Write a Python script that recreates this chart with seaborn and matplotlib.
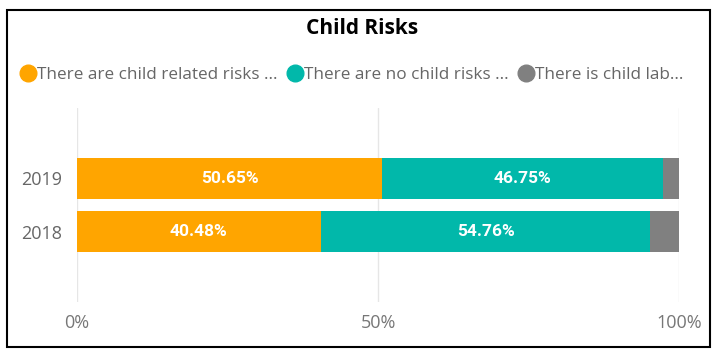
import matplotlib
matplotlib.use("Agg")
import matplotlib.pyplot as plt
import seaborn as sns
import pandas as pd
from matplotlib.patches import Rectangle
from matplotlib.lines import Line2D

years = ["2019", "2018"]
related = [50.65, 40.48]
no_risk = [46.75, 54.76]
labour = [2.60, 4.76]
series_names = ["There are child related risks ...", "There are no child risks ...", "There is child lab..."]
colors = ["#FFA500", "#01B8AA", "#808080"]
xticks = [0, 50, 100]
xticklabels = ["0%", "50%", "100%"]

sns.set_theme(style="white")
plt.rcParams['font.family'] = ['Open Sans', 'DejaVu Sans']

fig = plt.figure(figsize=(7.24, 3.57), dpi=100)
W, H = 724, 357
ax = fig.add_axes([77 / W, (H - 302) / H, (679 - 77) / W, (302 - 108) / H])

cum1 = related
cum2 = [a + b for a, b in zip(related, no_risk)]
cum3 = [a + b + c for a, b, c in zip(related, no_risk, labour)]

df = pd.DataFrame({"year": years, "c1": cum1, "c2": cum2, "c3": cum3})
for col, color in zip(["c3", "c2", "c1"], colors[::-1]):
    sns.barplot(data=df, x=col, y="year", orient="h", color=color, width=0.76,
                ax=ax, saturation=1, linewidth=0, order=years)

for i, y in enumerate(years):
    starts = [0, cum1[i]]
    vals = [related[i], no_risk[i]]
    for s, v in zip(starts, vals):
        ax.text(s + v / 2, i, f"{v:.2f}%", ha="center", va="center", color="white",
                fontsize=12.5, fontweight="bold", family=["Roboto", "DejaVu Sans"])

ax.set_xlim(0, 100)
ax.set_ylim(2.3, -1.3)
ax.set_xticks(xticks)
ax.set_xticklabels(xticklabels, color="#777777", fontsize=13)
ax.tick_params(axis="y", colors="#666666", labelsize=13, length=0, pad=11)
ax.tick_params(axis="x", length=0, pad=9)
ax.set_xlabel("")
ax.set_ylabel("")
for sp in ax.spines.values():
    sp.set_visible(False)
ax.grid(axis="x", color="#E6E6E6", linewidth=1)
ax.set_axisbelow(True)

fig.text(0.5, (H - 28) / H, "Child Risks", ha="center", va="center",
         fontsize=15, fontweight="bold", color="black")

handles = [Line2D([0], [0], marker="o", linestyle="", markersize=12,
                  markerfacecolor=c, markeredgecolor=c) for c in colors]
leg = fig.legend(handles, series_names, loc="center left", bbox_to_anchor=(13 / W, (H - 75) / H),
                 ncol=3, frameon=False, handletextpad=0.0, columnspacing=0.55,
                 handlelength=1.0, fontsize=12.3, borderaxespad=0)
for t in leg.get_texts():
    t.set_color("#666666")

fig.patches.append(Rectangle((7 / W, 10 / H), 703 / W, 337 / H, transform=fig.transFigure,
                             fill=False, edgecolor="black", linewidth=1.5))

fig.savefig("out.png", dpi=100)
